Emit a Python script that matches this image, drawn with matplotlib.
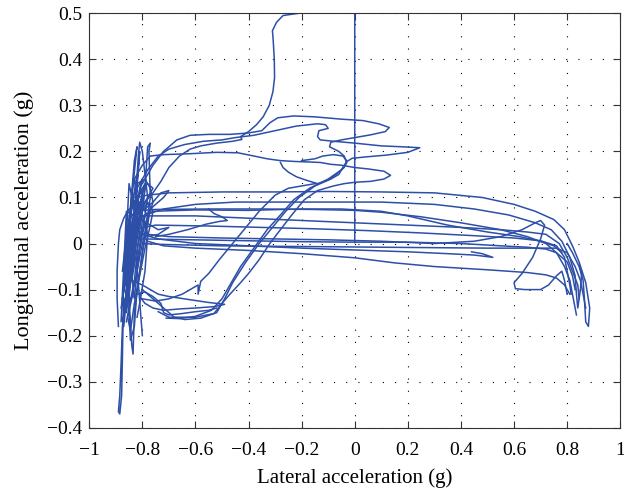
import numpy as np
import matplotlib
matplotlib.use("Agg")
import matplotlib.pyplot as plt

plt.rcParams['font.family'] = ['Liberation Serif', 'DejaVu Serif']

# trazos leidos a ojo de la figura (aceleracion lateral, longitudinal) en g
inicio = [(0.0, 0.002), (0.0, 0.5), (-0.21, 0.5), (-0.27, 0.495), (-0.295, 0.48), (-0.31, 0.462),
          (-0.307, 0.44), (-0.303, 0.40), (-0.302, 0.36), (-0.308, 0.33), (-0.322, 0.30),
          (-0.345, 0.275), (-0.37, 0.258), (-0.40, 0.243), (-0.43, 0.232), (-0.425, 0.226),
          (-0.46, 0.222), (-0.52, 0.218), (-0.58, 0.212), (-0.62, 0.205), (-0.66, 0.19),
          (-0.70, 0.165), (-0.73, 0.135), (-0.76, 0.11), (-0.79, 0.09), (-0.82, 0.07)]

lazo_alto = [(-0.80, 0.13), (-0.76, 0.17), (-0.72, 0.20), (-0.67, 0.225), (-0.62, 0.235), (-0.55, 0.237),
             (-0.47, 0.237), (-0.40, 0.24), (-0.35, 0.245), (-0.32, 0.262), (-0.29, 0.273), (-0.23, 0.277),
             (-0.15, 0.275), (-0.05, 0.27), (0.03, 0.267), (0.09, 0.26), (0.13, 0.252), (0.115, 0.243),
             (0.06, 0.236), (0.0, 0.23), (-0.05, 0.225), (-0.09, 0.22), (-0.095, 0.21), (-0.06, 0.2),
             (-0.04, 0.19), (-0.03, 0.175), (-0.05, 0.16), (-0.10, 0.14), (-0.17, 0.12), (-0.23, 0.095),
             (-0.28, 0.062), (-0.33, 0.03), (-0.38, -0.01), (-0.43, -0.05), (-0.47, -0.09), (-0.50, -0.12),
             (-0.54, -0.145), (-0.60, -0.158), (-0.66, -0.163), (-0.71, -0.162)]

lazo_punta = [(-0.82, 0.12), (-0.78, 0.16), (-0.74, 0.19), (-0.70, 0.205), (-0.64, 0.215), (-0.57, 0.222),
              (-0.50, 0.225), (-0.45, 0.23), (-0.38, 0.235), (-0.30, 0.245), (-0.22, 0.255), (-0.14, 0.26),
              (-0.11, 0.258), (-0.10, 0.25), (-0.135, 0.245), (-0.14, 0.232), (-0.13, 0.225), (-0.08, 0.222),
              (0.0, 0.218), (0.10, 0.212), (0.18, 0.210), (0.245, 0.208), (0.20, 0.198), (0.12, 0.192),
              (0.04, 0.188), (-0.01, 0.185), (-0.03, 0.178), (-0.045, 0.165), (-0.06, 0.15), (-0.09, 0.14),
              (-0.15, 0.125), (-0.21, 0.10), (-0.26, 0.07), (-0.31, 0.035), (-0.36, 0.0), (-0.41, -0.04),
              (-0.46, -0.085), (-0.49, -0.12), (-0.52, -0.15), (-0.58, -0.162), (-0.64, -0.165),
              (-0.68, -0.16), (-0.72, -0.14), (-0.76, -0.12), (-0.80, -0.10)]

lazo_medio = [(-0.83, 0.14), (-0.80, 0.17), (-0.77, 0.19), (-0.72, 0.193), (-0.62, 0.195), (-0.52, 0.198),
              (-0.44, 0.197), (-0.38, 0.19), (-0.33, 0.184), (-0.28, 0.18), (-0.22, 0.178), (-0.17, 0.177),
              (-0.13, 0.176), (-0.09, 0.172), (-0.05, 0.17), (0.0, 0.165), (0.05, 0.162), (0.11, 0.157),
              (0.135, 0.148), (0.11, 0.14), (0.06, 0.135), (0.0, 0.133), (-0.04, 0.13), (-0.08, 0.125),
              (-0.14, 0.115), (-0.19, 0.095), (-0.24, 0.06), (-0.28, 0.03), (-0.32, 0.0), (-0.36, -0.035),
              (-0.40, -0.065), (-0.43, -0.085), (-0.47, -0.11), (-0.50, -0.13), (-0.53, -0.152),
              (-0.60, -0.16), (-0.70, -0.16), (-0.74, -0.148)]

rizo = [(-0.28, 0.176), (-0.27, 0.165), (-0.25, 0.155), (-0.22, 0.145), (-0.18, 0.137), (-0.14, 0.13),
        (-0.10, 0.138), (-0.07, 0.15), (-0.04, 0.165), (-0.03, 0.18), (-0.045, 0.19), (-0.08, 0.193),
        (-0.12, 0.19), (-0.15, 0.184), (-0.20, 0.18)]

recta_a = [(-0.83, 0.10), (-0.78, 0.105), (-0.70, 0.11), (-0.50, 0.112), (-0.30, 0.112), (-0.10, 0.113),
           (0.10, 0.112), (0.30, 0.110), (0.48, 0.10), (0.60, 0.085), (0.68, 0.07), (0.75, 0.052),
           (0.79, 0.03), (0.82, -0.005), (0.845, -0.04), (0.87, -0.085), (0.885, -0.14), (0.88, -0.18),
           (0.87, -0.17), (0.865, -0.12), (0.86, -0.08), (0.845, -0.05), (0.82, -0.02), (0.80, 0.0)]

recta_b = [(-0.80, 0.06), (-0.72, 0.075), (-0.60, 0.085), (-0.45, 0.09), (-0.30, 0.09), (-0.10, 0.09),
           (0.10, 0.09), (0.30, 0.085), (0.45, 0.075), (0.58, 0.062), (0.68, 0.045), (0.74, 0.03),
           (0.78, 0.005), (0.81, -0.03), (0.83, -0.07), (0.835, -0.11), (0.84, -0.14), (0.85, -0.10),
           (0.855, -0.06)]

recta_c = [(-0.85, 0.06), (-0.80, 0.072), (-0.75, 0.074), (-0.55, 0.075), (-0.35, 0.075), (-0.16, 0.074),
           (0.0, 0.072), (0.10, 0.068), (0.25, 0.058), (0.40, 0.045), (0.55, 0.03), (0.65, 0.015),
           (0.72, 0.0), (0.76, -0.02), (0.79, -0.05), (0.81, -0.08), (0.82, -0.11), (0.83, -0.14),
           (0.835, -0.155)]

recta_c2 = [(-0.82, 0.05), (-0.76, 0.07), (-0.60, 0.073), (-0.40, 0.072), (-0.20, 0.075), (-0.05, 0.075),
            (0.10, 0.07), (0.20, 0.06), (0.35, 0.04), (0.50, 0.025), (0.62, 0.015), (0.70, 0.005),
            (0.75, -0.005), (0.78, -0.02)]

recta_d = [(-0.84, 0.03), (-0.75, 0.04), (-0.55, 0.038), (-0.35, 0.035), (-0.15, 0.032), (0.05, 0.028),
           (0.25, 0.023), (0.45, 0.017), (0.60, 0.012), (0.70, 0.006), (0.76, -0.005), (0.79, -0.03),
           (0.80, -0.06), (0.81, -0.09), (0.815, -0.11)]

recta_e = [(-0.78, 0.02), (-0.70, 0.015), (-0.50, 0.012), (-0.30, 0.01), (-0.10, 0.008), (0.10, 0.005),
           (0.30, 0.0), (0.45, 0.005), (0.55, 0.015), (0.63, 0.03), (0.68, 0.045), (0.70, 0.05),
           (0.715, 0.04), (0.70, 0.01), (0.67, -0.03), (0.63, -0.065), (0.60, -0.085), (0.605, -0.098),
           (0.64, -0.10), (0.70, -0.10), (0.73, -0.09), (0.76, -0.07), (0.78, -0.06), (0.79, -0.08),
           (0.80, -0.11)]

recta_f = [(-0.80, 0.0), (-0.72, -0.002), (-0.50, -0.005), (-0.30, -0.006), (-0.10, -0.007), (0.10, -0.008),
           (0.30, -0.009), (0.50, -0.01), (0.65, -0.01), (0.76, -0.01), (0.80, -0.02), (0.83, -0.05),
           (0.85, -0.08), (0.86, -0.11), (0.87, -0.14)]

recta_g = [(-0.80, 0.02), (-0.74, 0.01), (-0.60, 0.0), (-0.40, -0.005), (-0.20, -0.01), (0.0, -0.014),
           (0.20, -0.018), (0.35, -0.022), (0.45, -0.025), (0.52, -0.03), (0.48, -0.022), (0.44, -0.018)]

recta_h = [(-0.78, 0.005), (-0.72, -0.005), (-0.60, -0.01), (-0.40, -0.015), (-0.20, -0.022), (0.0, -0.031),
           (0.15, -0.042), (0.30, -0.05), (0.50, -0.057), (0.65, -0.063), (0.72, -0.068), (0.76, -0.075),
           (0.79, -0.09), (0.81, -0.11)]

recta_i = [(-0.80, 0.01), (-0.60, 0.008), (-0.40, 0.006), (-0.20, 0.004), (0.0, 0.003), (0.2, 0.003),
           (0.4, 0.0), (0.55, -0.005), (0.65, -0.008), (0.72, -0.012), (0.76, -0.02), (0.80, -0.04),
           (0.82, -0.07), (0.83, -0.10)]

recta_j = [(-0.78, 0.06), (-0.60, 0.06), (-0.40, 0.055), (-0.20, 0.05), (0.0, 0.045), (0.20, 0.04),
           (0.40, 0.035), (0.55, 0.03), (0.65, 0.025), (0.72, 0.02), (0.77, 0.0), (0.80, -0.03),
           (0.82, -0.06), (0.84, -0.09), (0.845, -0.12)]

gancho = [(-0.55, 0.075), (-0.53, 0.065), (-0.50, 0.058), (-0.48, 0.05), (-0.51, 0.048), (-0.56, 0.042),
          (-0.63, 0.03), (-0.70, 0.02), (-0.75, 0.015)]

bajo_1 = [(-0.86, -0.06), (-0.84, -0.08), (-0.82, -0.085), (-0.80, -0.09), (-0.77, -0.10), (-0.74, -0.11),
          (-0.70, -0.115), (-0.62, -0.122), (-0.55, -0.128), (-0.49, -0.132), (-0.53, -0.137),
          (-0.60, -0.14), (-0.66, -0.142), (-0.72, -0.145), (-0.76, -0.14), (-0.79, -0.13),
          (-0.81, -0.115), (-0.80, -0.10)]

bajo_2 = [(-0.85, -0.12), (-0.82, -0.11), (-0.79, -0.105), (-0.76, -0.115), (-0.73, -0.13), (-0.72, -0.15),
          (-0.70, -0.155), (-0.65, -0.152), (-0.60, -0.148), (-0.55, -0.145), (-0.52, -0.14)]

bajo_3 = [(-0.80, -0.12), (-0.75, -0.125), (-0.70, -0.12), (-0.65, -0.11), (-0.59, -0.09), (-0.59, -0.11),
          (-0.58, -0.082), (-0.55, -0.065), (-0.51, -0.035), (-0.46, 0.0), (-0.41, 0.035), (-0.36, 0.07),
          (-0.30, 0.105), (-0.25, 0.12), (-0.20, 0.125), (-0.15, 0.13)]

nube_1 = [(-0.86, -0.05), (-0.82, 0.12), (-0.85, -0.10), (-0.80, 0.10), (-0.86, -0.15), (-0.81, 0.20),
          (-0.83, 0.05), (-0.87, -0.18), (-0.84, 0.08), (-0.79, 0.13), (-0.85, -0.02), (-0.83, -0.12),
          (-0.80, 0.05), (-0.86, 0.07), (-0.88, -0.17), (-0.86, 0.0), (-0.82, 0.15), (-0.84, -0.08),
          (-0.81, 0.02), (-0.85, 0.13), (-0.87, -0.1), (-0.83, 0.18), (-0.82, 0.21), (-0.84, 0.1),
          (-0.86, -0.06)]

nube_2 = [(-0.80, -0.20), (-0.82, -0.05), (-0.78, 0.10), (-0.80, 0.20), (-0.81, 0.22), (-0.815, 0.19),
          (-0.83, 0.06), (-0.85, -0.12), (-0.84, -0.22), (-0.835, -0.24), (-0.83, -0.15), (-0.80, -0.02),
          (-0.77, 0.10), (-0.775, 0.20), (-0.77, 0.218), (-0.78, 0.21), (-0.79, 0.12), (-0.81, 0.03),
          (-0.83, -0.08), (-0.86, -0.17)]

nube_3 = [(-0.87, -0.16), (-0.84, -0.04), (-0.81, 0.06), (-0.79, 0.09), (-0.77, 0.08), (-0.78, 0.04),
          (-0.80, -0.02), (-0.82, -0.10), (-0.83, -0.18), (-0.845, -0.21), (-0.85, -0.14), (-0.86, -0.02),
          (-0.84, 0.11), (-0.83, 0.14), (-0.82, 0.10), (-0.80, 0.06), (-0.78, 0.02), (-0.79, -0.06),
          (-0.81, -0.13), (-0.82, -0.16)]

nube_4 = [(-0.88, -0.14), (-0.85, -0.03), (-0.83, 0.05), (-0.81, 0.12), (-0.80, 0.14), (-0.82, 0.08),
          (-0.84, 0.01), (-0.86, -0.07), (-0.875, -0.12), (-0.86, -0.04), (-0.84, 0.04), (-0.82, 0.10),
          (-0.79, 0.12), (-0.80, 0.07), (-0.83, -0.01), (-0.85, -0.09), (-0.87, -0.15), (-0.855, -0.08),
          (-0.835, 0.0), (-0.815, 0.07), (-0.80, 0.11)]

nube_5 = [(-0.865, -0.09), (-0.845, 0.0), (-0.825, 0.07), (-0.81, 0.09), (-0.825, 0.03), (-0.845, -0.05),
          (-0.86, -0.11), (-0.85, -0.06), (-0.83, 0.02), (-0.815, 0.08), (-0.80, 0.10), (-0.81, 0.05),
          (-0.83, -0.03), (-0.85, -0.10), (-0.84, -0.05), (-0.82, 0.03), (-0.80, 0.08), (-0.78, 0.06),
          (-0.80, 0.02), (-0.82, -0.04)]

nube_6 = [(-0.875, -0.06), (-0.86, 0.02), (-0.84, 0.09), (-0.82, 0.13), (-0.79, 0.14), (-0.77, 0.12),
          (-0.76, 0.09), (-0.78, 0.05), (-0.80, 0.0), (-0.82, -0.06), (-0.84, -0.12), (-0.855, -0.16),
          (-0.845, -0.19), (-0.83, -0.13), (-0.81, -0.07), (-0.79, -0.01), (-0.77, 0.04), (-0.76, 0.07),
          (-0.78, 0.09), (-0.81, 0.06), (-0.83, 0.0), (-0.86, -0.08)]

abanico = [(-0.83, 0.06), (-0.79, 0.075), (-0.76, 0.09), (-0.73, 0.11), (-0.70, 0.115), (-0.72, 0.10),
           (-0.76, 0.08), (-0.80, 0.05), (-0.77, 0.04), (-0.74, 0.03), (-0.70, 0.035), (-0.74, 0.02),
           (-0.78, 0.015), (-0.82, 0.03), (-0.79, 0.09), (-0.76, 0.12), (-0.78, 0.13), (-0.81, 0.11)]

pico = [(-0.86, -0.10), (-0.875, -0.18), (-0.88, -0.26), (-0.885, -0.33), (-0.89, -0.365), (-0.885, -0.37),
        (-0.878, -0.33), (-0.875, -0.25), (-0.873, -0.18), (-0.87, -0.12)]

borde = [(-0.89, -0.18), (-0.895, -0.12), (-0.895, -0.06), (-0.89, 0.0), (-0.885, 0.03), (-0.87, 0.055),
         (-0.85, 0.075)]

trazos = [inicio, lazo_alto, lazo_punta, lazo_medio, rizo, recta_a, recta_b, recta_c, recta_c2,
          recta_d, recta_e, recta_f, recta_g, recta_h, recta_i, recta_j, gancho, bajo_1, bajo_2,
          bajo_3, nube_1, nube_2, nube_3, nube_4, nube_5, nube_6, abanico, pico, borde]

xticks = np.arange(-1, 1.01, 0.2)
yticks = np.arange(-0.4, 0.51, 0.1)

def etiqueta(v):
    v = round(v, 2)
    if abs(v) < 1e-9:
        return '0'
    return ('%g' % v).replace('-', '\u2212')

fig = plt.figure(figsize=(6.24, 4.90), dpi=100)
ax = fig.add_axes([0.143, 0.127, 0.851, 0.846])

for tr in trazos:
    p = np.array(tr)
    ax.plot(p[:, 0], p[:, 1], color='#2d4fa8', lw=1.1)

ax.set_xlim(-1, 1)
ax.set_ylim(-0.4, 0.5)
ax.set_xticks(xticks)
ax.set_yticks(yticks)
ax.set_xticklabels([etiqueta(v) for v in xticks])
ax.set_yticklabels([etiqueta(v) for v in yticks])
ax.tick_params(direction='in', top=True, right=True, labelsize=14, length=5, color='#333333')
ax.tick_params(axis='x', pad=10)
ax.tick_params(axis='y', pad=5)
ax.grid(True, color='black', linestyle=(0, (1, 10)), lw=0.8)
for s in ax.spines.values():
    s.set_color('#333333')
ax.set_xlabel('Lateral acceleration (g)', fontsize=15, labelpad=7)
ax.set_ylabel('Longitudinal acceleration (g)', fontsize=16, labelpad=9)

fig.savefig('out.png', dpi=100)
